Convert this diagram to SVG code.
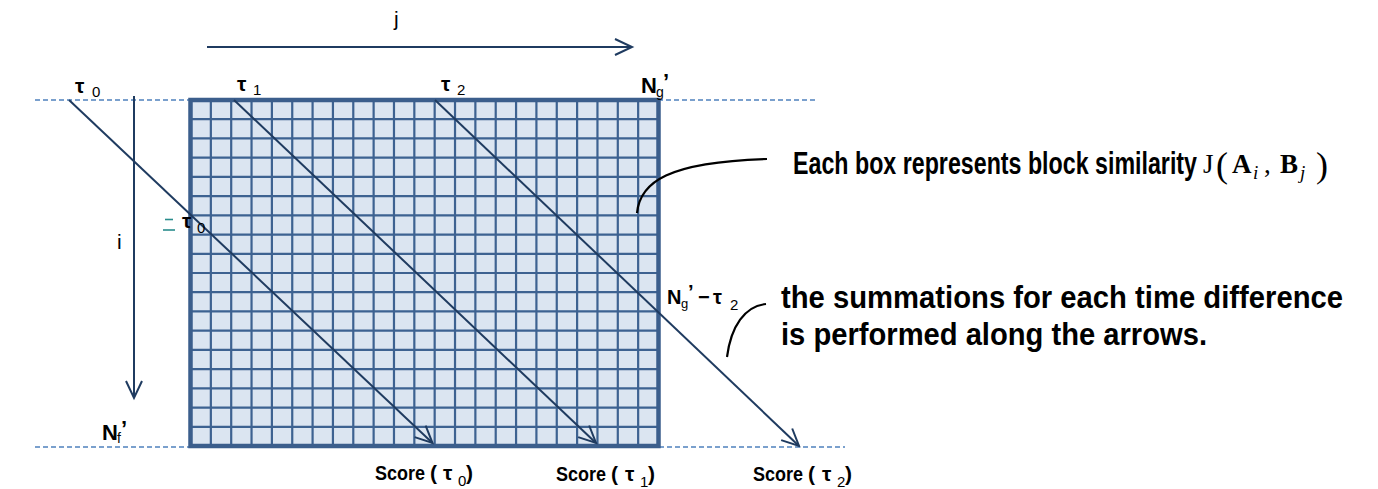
<svg xmlns="http://www.w3.org/2000/svg" width="1378" height="489" viewBox="0 0 1378 489">
<style>
.t{font-family:"Liberation Sans Narrow","Liberation Sans",sans-serif;font-weight:bold;fill:#000}
.s{font-weight:normal}
.big{font-size:32px}
.lab{font-size:21px}
.sc{font-size:21px}
.m{font-family:"Liberation Serif","DejaVu Serif",serif;fill:#000}
.dash{stroke:#4f81bd;stroke-width:1.5;stroke-dasharray:5 3;fill:none}
.arr{stroke:#1f3b60;stroke-width:2;fill:none}
.cur{stroke:#000;stroke-width:2.2;fill:none}
</style>
<defs>
<marker id="ah" markerUnits="userSpaceOnUse" markerWidth="40" markerHeight="40" refX="0" refY="0" viewBox="-20 -20 40 40" orient="auto" overflow="visible">
<path d="M-17,-8 L0,0 L-17,8" fill="none" stroke="#1f3b60" stroke-width="2"/>
</marker>
</defs>
<rect width="1378" height="489" fill="#fff"/>
<g id="guides">
<line class="dash" x1="35" y1="100" x2="190" y2="100"/>
<line class="dash" x1="658" y1="100" x2="815" y2="100"/>
<line class="dash" x1="35" y1="447" x2="845" y2="447"/>
</g>
<g id="grid">
<rect x="190.5" y="100" width="468" height="346" fill="#dbe5f1"/>
<path fill="none" stroke="#3d6291" stroke-width="2.2" d="M210.85 100V446M231.2 100V446M251.54 100V446M271.89 100V446M292.24 100V446M312.59 100V446M332.93 100V446M353.28 100V446M373.63 100V446M393.98 100V446M414.33 100V446M434.67 100V446M455.02 100V446M475.37 100V446M495.72 100V446M516.07 100V446M536.41 100V446M556.76 100V446M577.11 100V446M597.46 100V446M617.8 100V446M638.15 100V446M190.5 119.22H658.5M190.5 138.44H658.5M190.5 157.67H658.5M190.5 176.89H658.5M190.5 196.11H658.5M190.5 215.33H658.5M190.5 234.56H658.5M190.5 253.78H658.5M190.5 273H658.5M190.5 292.22H658.5M190.5 311.44H658.5M190.5 330.67H658.5M190.5 349.89H658.5M190.5 369.11H658.5M190.5 388.33H658.5M190.5 407.56H658.5M190.5 426.78H658.5"/>
<rect x="190.5" y="100" width="468" height="346" fill="none" stroke="#3b5e8c" stroke-width="4.5"/>
</g>
<g id="connectors">
<line class="arr" x1="207" y1="47" x2="632" y2="47" marker-end="url(#ah)"/>
<line class="arr" x1="134" y1="96" x2="134" y2="398" marker-end="url(#ah)"/>
<line class="arr" x1="69" y1="100" x2="432.5" y2="443" marker-end="url(#ah)"/>
<line class="arr" x1="234" y1="100" x2="596" y2="443" marker-end="url(#ah)"/>
<line class="arr" x1="435" y1="100" x2="799" y2="446" marker-end="url(#ah)"/>
<path class="cur" d="M637,213 C640,182 668,162 767,159"/>
<path class="cur" d="M727,357 C731,326 745,306 766,304"/>
</g>
<g id="label-j"><text class="t lab s" x="394" y="26">j</text></g>
<g id="label-i"><text class="t lab s" x="117" y="249">i</text></g>
<g id="label-tau0"><text class="t lab" x="75" y="93">τ<tspan class="s" font-size="15" x="92" y="97">0</tspan></text></g>
<g id="label-tau1"><text class="t lab" x="237" y="91">τ<tspan class="s" font-size="15" x="253" y="95">1</tspan></text></g>
<g id="label-tau2"><text class="t lab" x="441" y="91">τ<tspan class="s" font-size="15" x="457" y="95">2</tspan></text></g>
<g id="label-Ng"><text class="t" font-size="22" x="641" y="93">N<tspan class="s" font-size="14" x="656" y="97">g</tspan><tspan x="663" y="89">’</tspan></text></g>
<g id="label-Nf"><text class="t" font-size="22" x="102" y="440">N<tspan class="s" font-size="14" x="117" y="443">f</tspan><tspan x="121" y="436">’</tspan></text></g>
<g id="label-minus-tau0">
<line x1="165" y1="219.5" x2="173" y2="219.5" stroke="#2a8c8c" stroke-width="1.6"/>
<line x1="163" y1="230" x2="175" y2="230" stroke="#2a8c8c" stroke-width="1.6"/>
<text class="t lab" x="182" y="228">τ<tspan class="s" font-size="15" x="197" y="233">0</tspan></text>
</g>
<g id="label-Ng-tau2"><text class="t" font-size="20" x="667" y="304">N<tspan class="s" font-size="13" x="681" y="308">g</tspan><tspan x="688" y="299">’</tspan><tspan x="698" y="304">−</tspan><tspan x="713" y="304">τ</tspan><tspan class="s" font-size="15" x="730" y="310">2</tspan></text></g>
<g id="score0"><text class="t sc" x="375" y="480"><tspan textLength="50" lengthAdjust="spacingAndGlyphs">Score</tspan><tspan x="430">(</tspan><tspan x="443">τ</tspan><tspan class="s" font-size="15" x="458" y="486">0</tspan><tspan x="466" y="480">)</tspan></text></g>
<g id="score1"><text class="t sc" x="556" y="481"><tspan textLength="50" lengthAdjust="spacingAndGlyphs">Score</tspan><tspan x="611">(</tspan><tspan x="625">τ</tspan><tspan class="s" font-size="15" x="640" y="487">1</tspan><tspan x="648" y="481">)</tspan></text></g>
<g id="score2"><text class="t sc" x="753" y="481"><tspan textLength="50" lengthAdjust="spacingAndGlyphs">Score</tspan><tspan x="808">(</tspan><tspan x="822">τ</tspan><tspan class="s" font-size="15" x="837" y="487">2</tspan><tspan x="845" y="481">)</tspan></text></g>
<g id="note-box">
<text class="t big" x="793" y="174" textLength="404" lengthAdjust="spacingAndGlyphs">Each box represents block similarity</text>
<text class="m" font-size="27" x="1203" y="173">J<tspan font-size="36" x="1216" y="177">(</tspan><tspan font-weight="bold" x="1232" y="173">A</tspan><tspan font-size="19" font-style="italic" x="1253" y="179">i</tspan><tspan x="1264" y="173">,</tspan><tspan font-weight="bold" x="1280" y="173">B</tspan><tspan font-size="19" font-style="italic" x="1300" y="179">j</tspan><tspan font-size="36" x="1316" y="177">)</tspan></text>
</g>
<g id="note-sum">
<text class="t big" x="781" y="308" textLength="562" lengthAdjust="spacingAndGlyphs">the summations for each time difference</text>
<text class="t big" x="781" y="345" textLength="426" lengthAdjust="spacingAndGlyphs">is performed along the arrows.</text>
</g>
</svg>
